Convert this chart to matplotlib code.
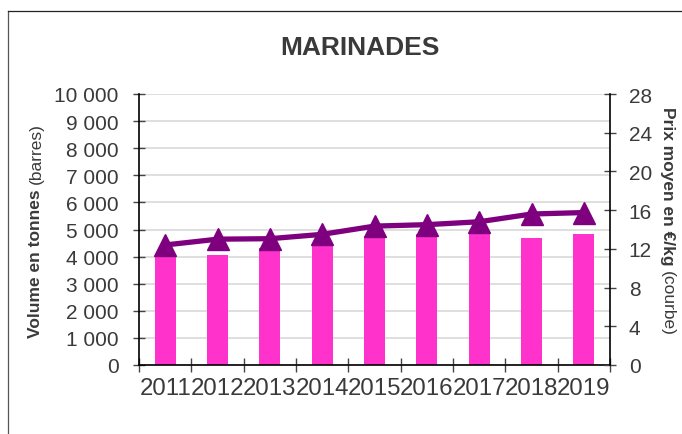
import numpy as np
import matplotlib
matplotlib.use("Agg")
from matplotlib import pyplot as plt
from matplotlib.lines import Line2D

plt.rcParams['font.family'] = ['Liberation Sans', 'DejaVu Sans']

# données
annees = ['2011', '2012', '2013', '2014', '2015', '2016', '2017', '2018', '2019']
volume = [4030, 4070, 4300, 4450, 4750, 4820, 4910, 4690, 4850]   # tonnes (barres)
prix = [12.4, 13.0, 13.05, 13.5, 14.35, 14.5, 14.8, 15.6, 15.75]  # €/kg (courbe)
yticks_g = [0, 1000, 2000, 3000, 4000, 5000, 6000, 7000, 8000, 9000, 10000]
yticks_d = [0, 4, 8, 12, 16, 20, 24, 28]

rose = '#FF33CC'
violet = '#7F007F'
gris_txt = '#3a3a3a'

W, H = 682, 435
fig = plt.figure(figsize=(W / 100, H / 100), dpi=100)

# cadre du graphique
fig.add_artist(Line2D([8 / W, 8 / W], [0, 1 - 12 / H], color='#555555', lw=0.9))
fig.add_artist(Line2D([8 / W, 1], [1 - 12 / H, 1 - 12 / H], color='#222222', lw=0.9))

x0, x1, yb, yt = 139, 610, 366, 95
ax = fig.add_axes([x0 / W, 1 - yb / H, (x1 - x0) / W, (yb - yt) / H])
x = np.arange(len(annees))

ax.bar(x, volume, width=0.4, color=rose, zorder=2)
ax.set_xlim(-0.5, len(annees) - 0.5)
ax.set_ylim(0, 10000)
ax.set_yticks(yticks_g)
ax.set_yticklabels([f"{v:,}".replace(',', ' ') for v in yticks_g])
ax.yaxis.grid(True, color='#d9d9d9', lw=1.2)
ax.set_axisbelow(True)

# graduations entre les catégories, étiquettes au centre
ax.set_xticks(np.arange(len(annees) + 1) - 0.5)
ax.set_xticklabels([])
ax.set_xticks(x, minor=True)
ax.set_xticklabels(annees, minor=True)
ax.tick_params(axis='x', which='major', direction='inout', length=10, width=1, color='#444444')
ax.tick_params(axis='x', which='minor', length=0, pad=8.5, labelsize=17.3, labelcolor=gris_txt)
ax.tick_params(axis='y', direction='inout', length=9, width=1, color='#444444',
               labelsize=15, labelcolor=gris_txt, pad=10)

for s in ['top', 'right']:
    ax.spines[s].set_visible(False)
for s in ['left', 'bottom']:
    ax.spines[s].set_color('black')
    ax.spines[s].set_linewidth(1.2)

ax2 = ax.twinx()
ax2.plot(x, prix, color=violet, lw=3.8, marker='^', markersize=15.5, zorder=3)
ax2.set_ylim(0, 28)
ax2.set_yticks(yticks_d)
ax2.tick_params(axis='y', direction='inout', length=9, width=1, color='#444444',
                labelsize=15, labelcolor=gris_txt, pad=9)
for s in ['top', 'left', 'bottom']:
    ax2.spines[s].set_visible(False)
ax2.spines['right'].set_color('black')
ax2.spines['right'].set_linewidth(1.2)

# titre
fig.text(360 / W, 1 - 48 / H, 'MARINADES', ha='center', va='center',
         fontsize=19, fontweight='bold', color=gris_txt)

# titres des axes (partie en gras + partie normale)
fig.canvas.draw()
r = fig.canvas.get_renderer()

t1 = fig.text(36 / W, 1 - 338 / H, 'Volume en tonnes', rotation=90, ha='center', va='bottom',
              fontsize=12.5, fontweight='bold', color=gris_txt)
bb = t1.get_window_extent(r)
fig.text(36 / W, (bb.y1 + 5) / H, '(barres)', rotation=90, ha='center', va='bottom',
         fontsize=12.5, color=gris_txt)

t2 = fig.text(667 / W, 1 - 107 / H, 'Prix moyen en €/kg', rotation=270, ha='center', va='top',
              fontsize=12.5, fontweight='bold', color=gris_txt)
bb = t2.get_window_extent(r)
fig.text(667 / W, (bb.y0 - 5) / H, '(courbe)', rotation=270, ha='center', va='top',
         fontsize=12.5, color=gris_txt)

fig.savefig('out.png', dpi=100)
